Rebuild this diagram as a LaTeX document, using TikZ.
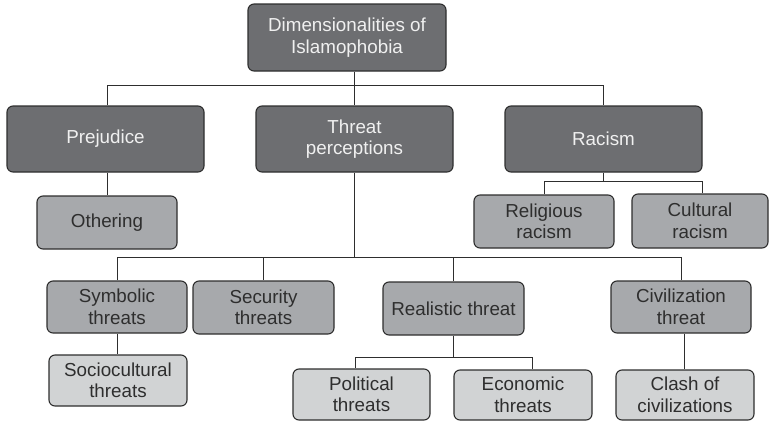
\documentclass[tikz,border=0pt]{standalone}
\usepackage{fontspec}
\setmainfont{Liberation Sans}
\definecolor{lvlone}{HTML}{6D6E71}
\definecolor{lvltwo}{HTML}{A7A9AC}
\definecolor{lvlthree}{HTML}{D1D3D4}
\definecolor{edge}{HTML}{2E2E2E}
\begin{document}
\begin{tikzpicture}[x=1pt,y=-1pt,
  box/.style={draw=edge, line width=1.1pt, rounded corners=6pt, align=center,
    inner sep=0pt, font=\fontsize{18.8}{21.5}\selectfont},
  dark/.style={box, fill=lvlone, text=white!94!black},
  mid/.style={box, fill=lvltwo, text=black!82},
  light/.style={box, fill=lvlthree, text=black!82},
  link/.style={draw=edge, line width=0.9pt}]
\useasboundingbox (0,0) rectangle (769,421);

% top and first level
\node[dark, minimum width=198pt, minimum height=67pt] (top) at (347,37.5) {Dimensionalities of\\Islamophobia};
\node[dark, minimum width=197pt, minimum height=66pt] (prej) at (105.5,139) {Prejudice};
\node[dark, minimum width=197pt, minimum height=66pt] (tp) at (354.5,139) {Threat\\perceptions};
\node[dark, minimum width=197pt, minimum height=66pt] (rac) at (603.5,139) {Racism};

% second level
\node[mid, minimum width=140pt, minimum height=53pt] (oth) at (107,222.5) {Othering};
\node[mid, minimum width=140pt, minimum height=53pt] (rel) at (544,221.5) {Religious\\racism};
\node[mid, minimum width=136pt, minimum height=54pt] (cul) at (700,221) {Cultural\\racism};
\node[mid, minimum width=140pt, minimum height=52pt] (sym) at (117,307) {Symbolic\\threats};
\node[mid, minimum width=141pt, minimum height=53pt] (sec) at (263.5,307.5) {Security\\threats};
\node[mid, minimum width=141pt, minimum height=53pt] (real) at (453.5,308.5) {Realistic threat};
\node[mid, minimum width=140pt, minimum height=52pt] (civ) at (681,307) {Civilization\\threat};

% third level
\node[light, minimum width=138pt, minimum height=51pt] (soc) at (118,380.5) {Sociocultural\\threats};
\node[light, minimum width=137pt, minimum height=51pt] (pol) at (361.5,394.5) {Political\\threats};
\node[light, minimum width=138pt, minimum height=50pt] (eco) at (523,395) {Economic\\threats};
\node[light, minimum width=138pt, minimum height=50pt] (cla) at (685,395) {Clash of\\civilizations};

% bus levels
\coordinate (busA) at (0,85.5);
\coordinate (busR) at (0,181);
\coordinate (busT) at (0,257);
\coordinate (busE) at (0,357);

% connectors
\draw[link] (top.south -| tp.north) -- (busA -| tp.north);
\draw[link] ([xshift=1.5pt]prej.north) |- (busA -| rac.north) -- (rac.north);
\draw[link] (busA -| tp.north) -- (tp.north);
\draw[link] ([xshift=1.5pt]prej.south) -- (oth.north);

\draw[link] (rac.south) -- (busR -| rac.south);
\draw[link] (rel.north) |- ([xshift=2pt]busR -| cul.north) -- ([xshift=2pt]cul.north);

\draw[link] (tp.south) -- (busT -| tp.south);
\draw[link] (sym.north) |- (busT -| civ.north) -- (civ.north);
\draw[link] (busT -| sec.north) -- (sec.north);
\draw[link] ([xshift=-0.5pt]busT -| real.north) -- ([xshift=-0.5pt]real.north);

\draw[link] (sym.south) -- (sym.south |- soc.north);
\draw[link] ([xshift=-0.5pt]real.south) -- ([xshift=-0.5pt]busE -| real.south);
\draw[link] ([xshift=-6.5pt]pol.north) |- ([xshift=9pt]busE -| eco.north) -- ([xshift=9pt]eco.north);
\draw[link] ([xshift=3pt]civ.south) -- ([xshift=-1pt]cla.north);
\end{tikzpicture}
\end{document}
